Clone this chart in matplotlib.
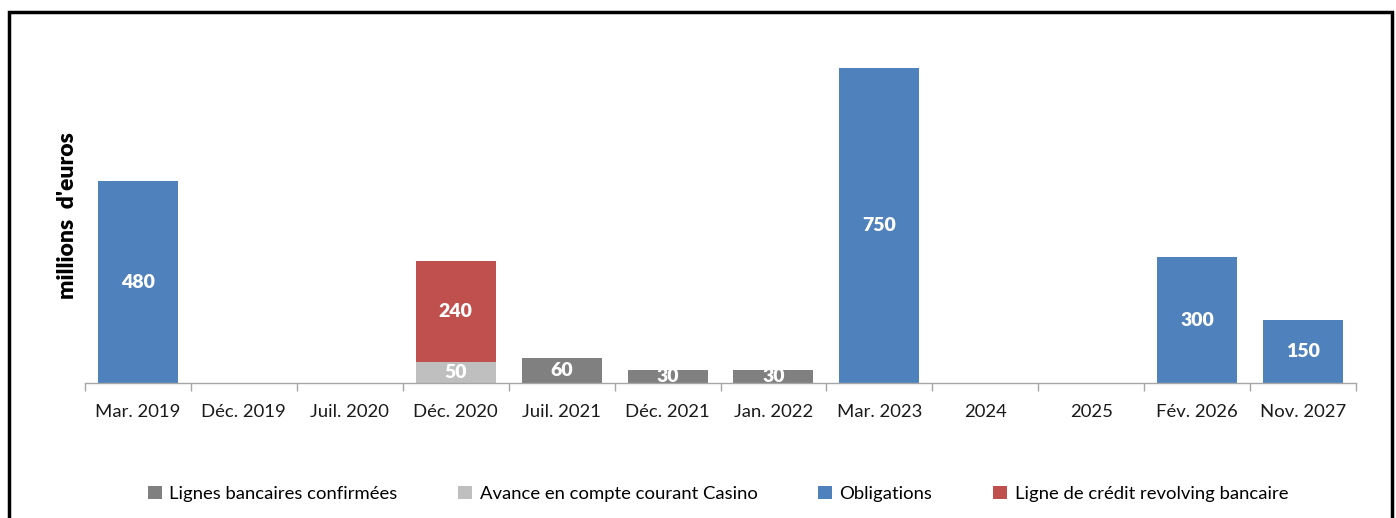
import matplotlib
matplotlib.use("Agg")
import matplotlib.pyplot as plt
from matplotlib.patches import Patch, Rectangle
import numpy as np

categories = ["Mar. 2019", "Déc. 2019", "Juil. 2020", "Déc. 2020", "Juil. 2021",
              "Déc. 2021", "Jan. 2022", "Mar. 2023", "2024", "2025",
              "Fév. 2026", "Nov. 2027"]
lignes = [0, 0, 0, 0, 60, 30, 30, 0, 0, 0, 0, 0]
avance = [0, 0, 0, 50, 0, 0, 0, 0, 0, 0, 0, 0]
obligations = [480, 0, 0, 0, 0, 0, 0, 750, 0, 0, 300, 150]
revolving = [0, 0, 0, 240, 0, 0, 0, 0, 0, 0, 0, 0]

series = [
    ("Lignes bancaires confirmées", lignes, "#808080"),
    ("Avance en compte courant Casino", avance, "#BFBFBF"),
    ("Obligations", obligations, "#4F81BD"),
    ("Ligne de crédit revolving bancaire", revolving, "#C0504D"),
]

plt.rcParams['font.family'] = ['Lato', 'DejaVu Sans']

W, H = 1396, 518
fig = plt.figure(figsize=(W / 100, H / 100), dpi=100)
ax = fig.add_axes([85 / W, (H - 383) / H, (1356 - 85) / W, 336 / H])

x = np.arange(len(categories))
bottom = np.zeros(len(categories))
for name, vals, col in series:
    vals = np.array(vals, dtype=float)
    ax.bar(x, vals, width=0.755, bottom=bottom, color=col, label=name,
           edgecolor='none')
    for xi, v, b in zip(x, vals, bottom):
        if v > 0:
            ax.text(xi, b + v / 2, f"{int(v)}", ha='center', va='center',
                    color='white', fontsize=14, fontweight='heavy', clip_on=True)
    bottom += vals

ax.set_xlim(-0.5, len(categories) - 0.5)
ax.set_ylim(0, 800)
ax.set_xticks(x)
ax.set_xticklabels(categories, fontsize=13.3, color='#1a1a1a')
ax.set_xticks(np.arange(-0.5, len(categories), 1.0), minor=True)
ax.tick_params(axis='x', which='major', length=0, pad=15)
ax.tick_params(axis='x', which='minor', length=6, color='#A6A6A6', width=1)
ax.set_yticks([])
for s in ['top', 'right', 'left']:
    ax.spines[s].set_visible(False)
ax.spines['bottom'].set_color('#A6A6A6')
ax.spines['bottom'].set_linewidth(1)

fig.text(68 / W, 1 - 216 / H, "millions  d'euros", rotation=90, ha='center',
         va='center', fontsize=16.5, fontweight='heavy', color='black')

handles = [Patch(facecolor=c, edgecolor='none', label=n) for n, _, c in series]
fig.legend(handles=handles, loc='center', bbox_to_anchor=(718 / W, 1 - 494 / H),
           ncol=4, frameon=False, fontsize=13.3, handlelength=0.75,
           handleheight=0.75, handletextpad=0.4, columnspacing=3.3)

fig.patches.append(Rectangle((9 / W, -0.1), (1392 - 9) / W, (H - 12) / H + 0.1,
                             transform=fig.transFigure, fill=False,
                             edgecolor='black', linewidth=2.5))

fig.savefig("out.png", dpi=100)
